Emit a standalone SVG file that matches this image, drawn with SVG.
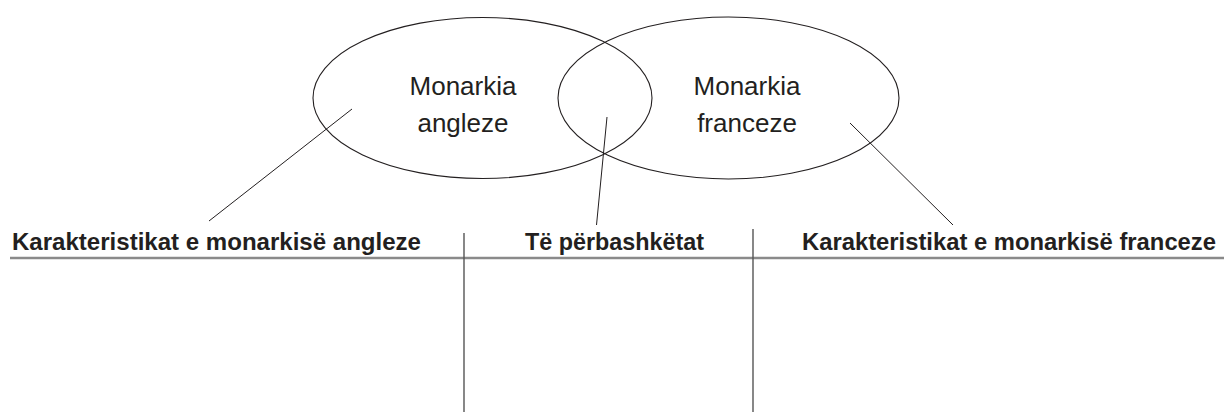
<svg xmlns="http://www.w3.org/2000/svg" width="1226" height="412" viewBox="0 0 1226 412">
<style>
.ell{fill:none;stroke:#231f20;stroke-width:1.1}
.lbl{font-family:"Liberation Sans",Arial,Helvetica,sans-serif;font-size:26px;fill:#231f20;text-anchor:middle}
.hdr{font-family:"Liberation Sans",Arial,Helvetica,sans-serif;font-size:24px;font-weight:bold;fill:#231f20}
.ptr{stroke:#231f20;stroke-width:1;fill:none}
.rule{stroke:#8a8a8a;stroke-width:2.4}
.div{stroke:#555;stroke-width:1.4}
</style>
<rect width="1226" height="412" fill="#fff"/>
<g id="node-angleze">
<ellipse class="ell" cx="482.5" cy="98" rx="169.5" ry="80.5"/>
<text class="lbl" x="463" y="95">Monarkia</text>
<text class="lbl" x="463" y="132">angleze</text>
</g>
<g id="node-franceze">
<ellipse class="ell" cx="728.5" cy="98" rx="170.5" ry="81"/>
<text class="lbl" x="747" y="95">Monarkia</text>
<text class="lbl" x="747" y="132">franceze</text>
</g>
<g id="header-angleze">
<text class="hdr" x="12" y="250" textLength="409" lengthAdjust="spacingAndGlyphs">Karakteristikat e monarkisë angleze</text>
</g>
<g id="header-perbashketat">
<text class="hdr" x="525" y="250" textLength="179" lengthAdjust="spacingAndGlyphs">Të përbashkëtat</text>
</g>
<g id="header-franceze">
<text class="hdr" x="802" y="250" textLength="414" lengthAdjust="spacingAndGlyphs">Karakteristikat e monarkisë franceze</text>
</g>
<g id="table">
<line class="rule" x1="10" y1="258" x2="1224" y2="258"/>
<line class="div" x1="464" y1="233" x2="464" y2="412"/>
<line class="div" x1="753" y1="229" x2="753" y2="412"/>
</g>
<g id="connectors">
<line class="ptr" x1="352" y1="109" x2="209" y2="221"/>
<line class="ptr" x1="607" y1="117" x2="596.5" y2="225"/>
<line class="ptr" x1="850" y1="123" x2="953" y2="225"/>
</g>
</svg>
